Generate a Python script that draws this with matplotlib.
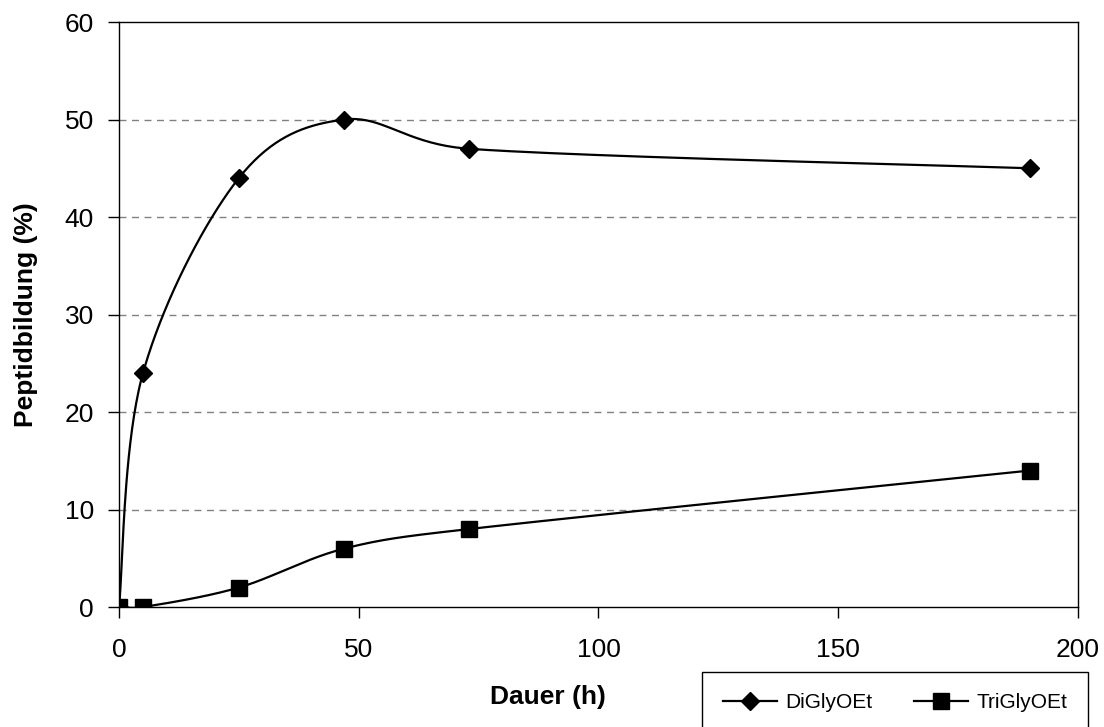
import numpy as np
import matplotlib.pyplot as plt

plt.rcParams['font.family'] = ['Liberation Sans', 'DejaVu Sans']

# data
dauer = [0, 5, 25, 47, 73, 190]
di_gly = [0, 24, 44, 50, 47, 45]
tri_gly = [0, 0, 2, 6, 8, 14]


def smooth(ax, x, y, n=40):
    # Excel-like smoothed line: Bezier segments, handles computed in
    # display space and capped at half the segment length
    pts = ax.transData.transform(np.column_stack([x, y]))
    out = [pts[0]]
    t = np.linspace(0, 1, n)[1:, None]
    for i in range(len(pts) - 1):
        a, b = pts[i], pts[i + 1]
        prev = pts[i - 1] if i > 0 else a
        nxt = pts[i + 2] if i + 2 < len(pts) else b
        seg_len = np.hypot(*(b - a))
        h1 = (b - prev) / 6
        h2 = (nxt - a) / 6
        for h in (h1, h2):
            ln = np.hypot(*h)
            if ln > seg_len / 2:
                h *= (seg_len / 2) / ln
        c1 = a + h1
        c2 = b - h2
        seg = ((1 - t) ** 3) * a + 3 * ((1 - t) ** 2) * t * c1 \
            + 3 * (1 - t) * t ** 2 * c2 + t ** 3 * b
        out.extend(seg)
    out = ax.transData.inverted().transform(np.array(out))
    return out[:, 0], out[:, 1]


fig = plt.figure(figsize=(11.04, 7.27), dpi=100)
ax = fig.add_axes([0.1078, 0.165, 0.8686, 0.8047])
ax.set_xlim(0, 200)
ax.set_ylim(0, 60)

sx, sy = smooth(ax, dauer, di_gly)
ax.plot(sx, sy, color='black', lw=1.6, zorder=3)
ax.plot(dauer, di_gly, ls='none', marker='D', ms=9, color='black', zorder=4)
sx, sy = smooth(ax, dauer, tri_gly)
ax.plot(sx, sy, color='black', lw=1.6, zorder=3)
ax.plot(dauer, tri_gly, ls='none', marker='s', ms=11, color='black', zorder=4)

ax.set_xticks([0, 50, 100, 150, 200])
ax.set_yticks([0, 10, 20, 30, 40, 50, 60])
for yv in [10, 20, 30, 40, 50]:
    ax.axhline(yv, color='#808080', lw=1, ls=(0, (5, 4)), zorder=1)
ax.tick_params(direction='out', length=8, width=1, labelsize=19)
ax.tick_params(axis='x', pad=14)
ax.tick_params(axis='y', pad=10)
for s in ax.spines.values():
    s.set_linewidth(1)
ax.set_xlabel('Dauer (h)', fontsize=19, fontweight='bold')
ax.set_ylabel('Peptidbildung (%)', fontsize=19, fontweight='bold')
ax.xaxis.set_label_coords(0.447, -0.133)
ax.yaxis.set_label_coords(-0.084, 0.5)

h1, = ax.plot([], [], color='black', lw=1.6, marker='D', ms=9)
h2, = ax.plot([], [], color='black', lw=1.6, marker='s', ms=11)
leg = fig.legend([h1, h2], ['DiGlyOEt', 'TriGlyOEt'], ncol=2, loc='upper left',
                 bbox_to_anchor=(0.6359, 0.0757), borderaxespad=0,
                 fontsize=15, fancybox=False, edgecolor='black', framealpha=1,
                 borderpad=1.0, handlelength=2.6, handletextpad=0.4,
                 columnspacing=2.0)
leg.get_frame().set_linewidth(1)

fig.savefig('out.png', dpi=100)
